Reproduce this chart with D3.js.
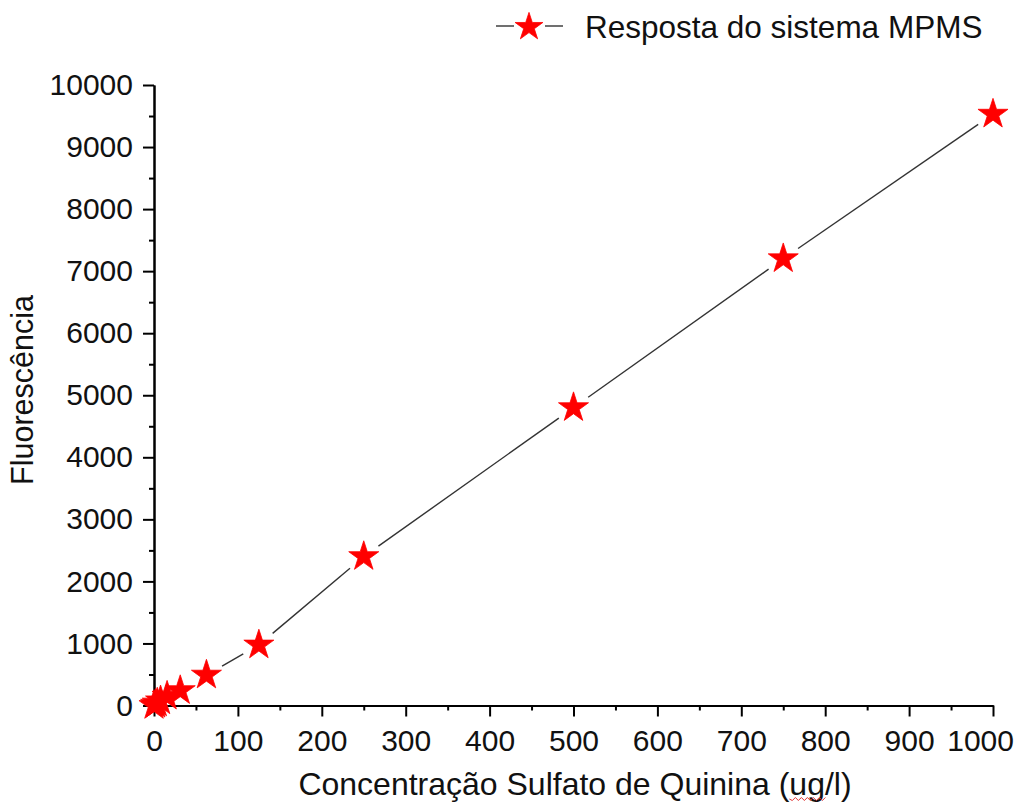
<!DOCTYPE html>
<html><head><meta charset="utf-8">
<script src="https://cdn.jsdelivr.net/npm/d3@7"></script>
<style>
body{margin:0;background:#fff;}
text{font-family:"Liberation Sans",Arial,sans-serif;fill:#111;}
</style></head>
<body>
<svg id="c" width="1023" height="804"></svg>
<script>
const concentration = [0, 1.95, 3.9, 7.8, 15.6, 31.25, 62.5, 125, 250, 500, 750, 1000];
const fluorescence = [0, 20, 40, 75, 150, 240, 490, 975, 2400, 4800, 7200, 9530];
const xTicks = [0,100,200,300,400,500,600,700,800,900,1000];
const yTicks = [0,1000,2000,3000,4000,5000,6000,7000,8000,9000,10000];
const seriesName = "Resposta do sistema MPMS";
const xTitle = "Concentração Sulfato de Quinina (ug/l)";
const yTitle = "Fluorescência";

const svg = d3.select("#c");
const x = d3.scaleLinear().domain([0,1000]).range([154,993]);
const y = d3.scaleLinear().domain([0,10000]).range([705.5,85]);
const red = "#ff0000";
const starSize = 280;
const gap = 18;

// axes
const xMinor = d3.range(50,1000,100);
const yMinor = d3.range(500,10000,1000);
function styleAxis(g){
  g.select(".domain").attr("stroke","#000").attr("stroke-width",2);
  g.selectAll(".tick line").attr("stroke","#000").attr("stroke-width",2);
  g.selectAll(".tick text").style("font-size","30px").attr("fill","#111");
}
svg.append("g").attr("transform",`translate(0,${y(0)})`)
  .call(d3.axisBottom(x).tickValues(xMinor).tickSize(5).tickSizeOuter(0).tickFormat(""))
  .call(styleAxis);
svg.append("g").attr("transform",`translate(${x(0)},0)`)
  .call(d3.axisLeft(y).tickValues(yMinor).tickSize(5).tickSizeOuter(0).tickFormat(""))
  .call(styleAxis);
const gx = svg.append("g").attr("transform",`translate(0,${y(0)})`)
  .call(d3.axisBottom(x).tickValues(xTicks).tickSize(11).tickPadding(13).tickSizeOuter(0).tickFormat(d3.format("d")))
  .call(styleAxis);
svg.append("g").attr("transform",`translate(${x(0)},0)`)
  .call(d3.axisLeft(y).tickValues(yTicks).tickSize(11).tickPadding(10).tickSizeOuter(0).tickFormat(d3.format("d")))
  .call(styleAxis);
// keep the last x label inside the frame (as in the reference)
gx.selectAll(".tick text").each(function(){
  const bb = this.getBBox();
  const tr = this.parentNode.transform.baseVal.consolidate().matrix.e;
  const right = tr + bb.x + bb.width;
  if(right > 1014) d3.select(this).attr("x", 1014 - right);
});

// connecting line with gaps around markers
const pts = concentration.map((c,i)=>[x(c), y(fluorescence[i])]);
const segs = [];
for(let i=0;i<pts.length-1;i++){
  const [x0,y0]=pts[i],[x1,y1]=pts[i+1];
  const d=Math.hypot(x1-x0,y1-y0);
  if(d>2*gap){
    const ux=(x1-x0)/d, uy=(y1-y0)/d;
    segs.push([x0+ux*gap,y0+uy*gap,x1-ux*gap,y1-uy*gap]);
  }
}
svg.append("g").selectAll("line").data(segs).join("line")
  .attr("x1",d=>d[0]).attr("y1",d=>d[1]).attr("x2",d=>d[2]).attr("y2",d=>d[3])
  .attr("stroke","#333").attr("stroke-width",1.4);

// markers
const star = d3.symbol().type(d3.symbolStar).size(starSize);
svg.append("g").selectAll("path").data(pts).join("path")
  .attr("d",star).attr("transform",d=>`translate(${d[0]},${d[1]})`)
  .attr("fill",red).attr("stroke",red).attr("stroke-width",0.8);

// legend
const lg = svg.append("g");
lg.append("line").attr("x1",496).attr("x2",514).attr("y1",26).attr("y2",26).attr("stroke","#333").attr("stroke-width",1.4);
lg.append("line").attr("x1",545).attr("x2",563).attr("y1",26).attr("y2",26).attr("stroke","#333").attr("stroke-width",1.4);
lg.append("path").attr("d",d3.symbol().type(d3.symbolStar).size(240)).attr("transform","translate(529,27)")
  .attr("fill",red).attr("stroke",red).attr("stroke-width",0.8);
lg.append("text").attr("x",585).attr("y",38).style("font-size","31.5px").text(seriesName);

// axis titles
const xt = svg.append("text").attr("x",575).attr("y",795).attr("text-anchor","middle").style("font-size","32px").text(xTitle);
svg.append("text").attr("transform","translate(33,390) rotate(-90)").attr("text-anchor","middle").style("font-size","30.5px").text(yTitle);

// spell-check squiggle under "ug"
const idx = xTitle.indexOf("ug/");
const n = xt.node();
const a = n.getExtentOfChar(idx), b = n.getExtentOfChar(idx+1);
const sx0 = a.x, sx1 = b.x + b.width, sy = 799;
let p = `M${sx0},${sy}`;
for(let xx=sx0, k=0; xx<sx1; xx+=3, k++){ p += ` L${xx+3},${sy + (k%2?-1.5:1.5)}`; }
svg.append("path").attr("d",p).attr("fill","none").attr("stroke","#e03030").attr("stroke-width",1);
</script>
</body></html>
